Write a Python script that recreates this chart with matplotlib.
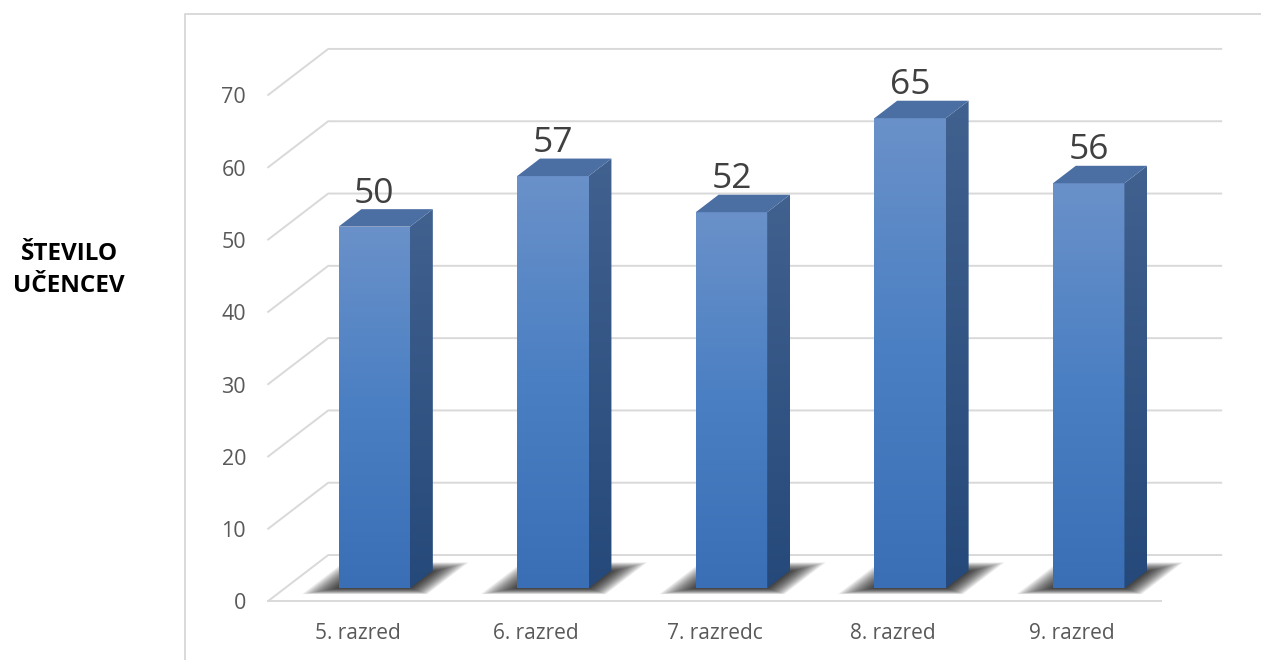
import numpy as np
import matplotlib.pyplot as plt
from matplotlib.patches import Polygon, Rectangle
from matplotlib.colors import LinearSegmentedColormap

plt.rcParams['font.family'] = ['Open Sans', 'DejaVu Sans']

# data
razredi = ['5. razred', '6. razred', '7. razredc', '8. razred', '9. razred']
ucenci = [50, 57, 52, 65, 56]
y_ticks = [0, 10, 20, 30, 40, 50, 60, 70]

# fake 3d geometry (data units)
DX, DY = 0.336, 6.36   # depth of the floor
D0, D1 = 0.28, 0.66    # front / back depth of the bars
W = 0.4                # bar width
grid_col = '#d9d9d9'

front_cmap = LinearSegmentedColormap.from_list('front', ['#3a6fb6', '#4a7fc3', '#6a91c9'])
side_cmap = LinearSegmentedColormap.from_list('side', ['#25497a', '#41618f'])
grad = np.linspace(0, 1, 256).reshape(-1, 1)

fig = plt.figure(figsize=(12.61, 6.60), dpi=100)
ax = fig.add_axes([0, 0, 1, 1])
ax.axis('off')

# walls / gridlines
for t in y_ticks:
    ax.plot([-0.5, -0.5 + DX, 4.5 + DX], [t, t + DY, t + DY], color=grid_col, lw=1.4, zorder=1)
    ax.text(-0.624, t - 0.4, str(t), ha='right', va='center', fontsize=15.5, color='#595959')
ax.plot([-0.5, 4.5], [0, 0], color=grid_col, lw=1.4, zorder=1)

for i, name in enumerate(razredi):
    ax.text(i, -4.43, name, ha='center', va='center', fontsize=15, color='#595959')

def floor_pt(x, d):
    return (x + d * DX, d * DY)

# soft shadows on the floor (stacked translucent layers)
n_layers = 22
for i, v in enumerate(ucenci):
    xl, xr = i - W / 2, i + W / 2
    for k in range(n_layers):
        s = k / (n_layers - 1)
        sx_l = xl - 0.16 * (1 - s) + 0.03 * s
        sx_r = xr + 0.14 * (1 - s) - 0.02 * s
        d_f = 0.15 * (1 - s) + 0.3 * s
        d_b = 0.84 * (1 - s) + 0.6 * s
        pts = [floor_pt(sx_l, d_f), floor_pt(sx_r, d_f), floor_pt(sx_r, d_b), floor_pt(sx_l, d_b)]
        ax.add_patch(Polygon(pts, closed=True, facecolor='black', edgecolor='none',
                             alpha=0.065, zorder=2))

# bars
ddx, ddy = (D1 - D0) * DX, (D1 - D0) * DY
for i, v in enumerate(ucenci):
    x0 = i - W / 2 + D0 * DX
    x1 = x0 + W
    yb = D0 * DY
    yt = v + D0 * DY

    rect = Rectangle((x0, yb), W, v, facecolor='none', edgecolor='none', zorder=3)
    ax.add_patch(rect)
    im = ax.imshow(grad, extent=[x0, x1, yb, yt], origin='lower', aspect='auto',
                   cmap=front_cmap, zorder=3, interpolation='bilinear')
    im.set_clip_path(rect)

    side = Polygon([(x1, yb), (x1 + ddx, yb + ddy), (x1 + ddx, yt + ddy), (x1, yt)],
                   closed=True, facecolor='none', edgecolor='none', zorder=3)
    ax.add_patch(side)
    im2 = ax.imshow(grad, extent=[x1, x1 + ddx, yb, yt + ddy], origin='lower', aspect='auto',
                    cmap=side_cmap, zorder=3, interpolation='bilinear')
    im2.set_clip_path(side)

    top = Polygon([(x0, yt), (x1, yt), (x1 + ddx, yt + ddy), (x0 + ddx, yt + ddy)],
                  closed=True, facecolor='#4b6ea3', edgecolor='none', zorder=4)
    ax.add_patch(top)

    ax.text(x0 + W / 2, yt + ddy + 0.9, str(v), ha='center', va='baseline',
            fontsize=25.5, color='#404040', zorder=5)

ax.set_xlim(-2.0017, 5.0588)
ax.set_ylim(-8.16, 83.13)

# chart frame
fx, fy = 185 / 1261, 1 - 14 / 660
fig.add_artist(plt.Line2D([fx, fx, 1.0], [0.0, fy, fy], transform=fig.transFigure,
                          color=grid_col, lw=1.4))

fig.text(69 / 1261, 1 - 270 / 660, 'ŠTEVILO\nUČENCEV', ha='center', va='center',
         fontsize=17.5, fontweight='bold', color='black', linespacing=1.45)

fig.savefig('out.png', dpi=100)
